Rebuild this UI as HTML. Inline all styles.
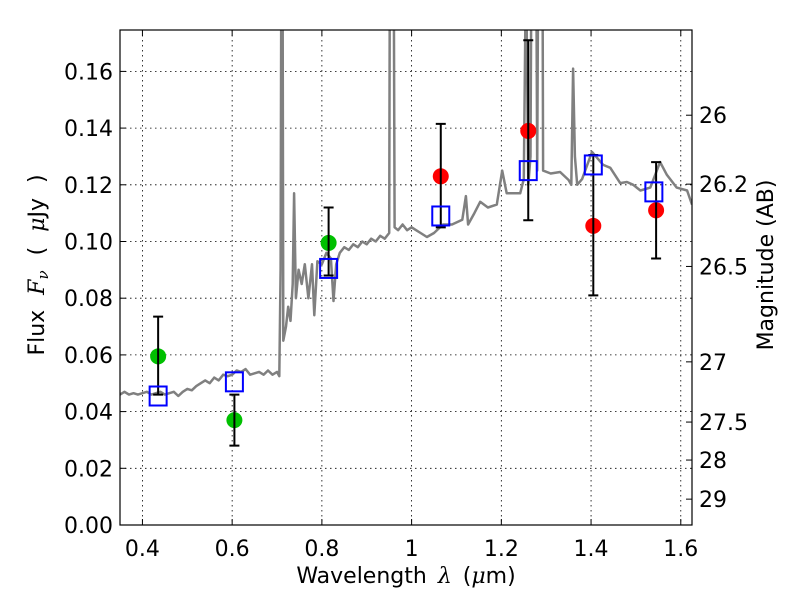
<!DOCTYPE html>
<html><head><meta charset="utf-8"><style>
body{margin:0;background:#fff;}
svg{display:block;font-family:"DejaVu Sans","Liberation Sans",sans-serif;}
</style></head><body>
<svg id="chart" width="800" height="600" viewBox="0 0 800 600">
<defs><clipPath id="clip"><rect x="120" y="30" width="572" height="495"/></clipPath></defs>
<rect x="0" y="0" width="800" height="600" fill="#fff"/>
<g id="grid"></g>
<g id="marks" clip-path="url(#clip)"></g>
<rect x="120" y="30" width="572" height="495" fill="none" stroke="#000" stroke-width="1.2"/>
<g id="axes"></g>
<text x="406" y="583" font-size="22" text-anchor="middle" word-spacing="4">Wavelength  <tspan font-style="italic" font-family="DejaVu Serif, serif">λ</tspan> (<tspan font-style="italic" font-family="DejaVu Serif, serif">μ</tspan>m)</text>
<text transform="translate(44,265) rotate(-90)" font-size="22" text-anchor="middle" word-spacing="8">Flux <tspan font-style="italic" font-family="DejaVu Serif, serif">F</tspan><tspan font-style="italic" font-family="DejaVu Serif, serif" font-size="15" dy="4">ν</tspan><tspan dy="-4"> ( <tspan font-style="italic" font-family="DejaVu Serif, serif">μ</tspan>Jy )</tspan></text>
<text transform="translate(773,265) rotate(-90)" font-size="22" text-anchor="middle">Magnitude (AB)</text>
</svg>
<script>
const specWave=[0.35,0.36,0.37,0.38,0.39,0.40,0.41,0.42,0.43,0.44,0.45,0.46,0.47,0.48,0.49,0.50,0.51,0.52,0.53,0.54,0.55,0.56,0.57,0.58,0.59,0.60,0.61,0.62,0.63,0.64,0.65,0.66,0.67,0.68,0.69,0.70,0.705,0.708,0.711,0.714,0.72,0.725,0.73,0.735,0.738,0.742,0.748,0.755,0.762,0.77,0.778,0.783,0.79,0.80,0.81,0.82,0.826,0.832,0.84,0.85,0.86,0.87,0.88,0.89,0.90,0.91,0.92,0.93,0.94,0.95,0.953,0.958,0.962,0.97,0.98,0.99,1.00,1.01,1.02,1.034,1.05,1.07,1.09,1.113,1.121,1.126,1.14,1.153,1.17,1.19,1.202,1.212,1.23,1.242,1.25,1.255,1.26,1.265,1.27,1.275,1.28,1.285,1.29,1.293,1.31,1.331,1.35,1.356,1.36,1.364,1.369,1.38,1.402,1.427,1.443,1.465,1.48,1.494,1.51,1.532,1.554,1.569,1.591,1.614,1.625];
const specFlux=[0.046,0.047,0.046,0.0465,0.046,0.0465,0.047,0.046,0.0465,0.047,0.046,0.0465,0.047,0.0455,0.047,0.048,0.0475,0.049,0.050,0.051,0.050,0.052,0.051,0.053,0.0525,0.053,0.0545,0.054,0.055,0.053,0.0535,0.054,0.053,0.0545,0.053,0.054,0.0525,0.09,0.3,0.065,0.07,0.077,0.072,0.085,0.117,0.08,0.09,0.085,0.092,0.08,0.092,0.074,0.093,0.092,0.096,0.094,0.079,0.092,0.096,0.098,0.097,0.099,0.098,0.100,0.099,0.101,0.100,0.102,0.101,0.103,0.3,0.3,0.105,0.104,0.106,0.104,0.105,0.104,0.103,0.1016,0.103,0.106,0.106,0.1077,0.116,0.106,0.110,0.114,0.112,0.113,0.125,0.117,0.117,0.117,0.122,0.2,0.12,0.13,0.3,0.3,0.125,0.3,0.3,0.125,0.124,0.1245,0.1217,0.12,0.161,0.13,0.12,0.122,0.1316,0.127,0.126,0.1206,0.121,0.12,0.118,0.119,0.128,0.1235,0.119,0.118,0.113];
const bandWave=[0.435,0.605,0.815,1.065,1.26,1.405,1.545];
const obsFlux=[0.0595,0.037,0.0995,0.123,0.139,0.1055,0.111];
const errLow=[0.046,0.028,0.088,0.105,0.1075,0.081,0.094];
const errHigh=[0.0735,0.046,0.112,0.1415,0.171,0.1305,0.128];
const obsColor=['#00c000','#00c000','#00c000','#ff0000','#ff0000','#ff0000','#ff0000'];
const modelWave=[0.435,0.605,0.815,1.065,1.26,1.405,1.54];
const modelFlux=[0.0455,0.0505,0.0905,0.109,0.125,0.127,0.1175];
const xTicks=[0.4,0.6,0.8,1.0,1.2,1.4,1.6];
const xTickLabels=['0.4','0.6','0.8','1','1.2','1.4','1.6'];
const yTicks=[0,0.02,0.04,0.06,0.08,0.10,0.12,0.14,0.16];
const yTickLabels=['0.00','0.02','0.04','0.06','0.08','0.10','0.12','0.14','0.16'];
const magTicks=[26,26.2,26.5,27,27.5,28,29];
const magTickLabels=['26','26.2','26.5','27','27.5','28','29'];

const NS='http://www.w3.org/2000/svg';
const X0=0.35,X1=1.625,Y0=0,Y1=0.1746,L=120,R=692,T=30,B=525;
const sx=v=>L+(v-X0)/(X1-X0)*(R-L);
const sy=v=>B-(v-Y0)/(Y1-Y0)*(B-T);
const magToFlux=m=>Math.pow(10,(23.9-m)/2.5);
function mk(tag,attrs,parent){const e=document.createElementNS(NS,tag);for(const k in attrs)e.setAttribute(k,attrs[k]);parent.appendChild(e);return e;}
const grid=document.getElementById('grid'),marks=document.getElementById('marks'),axes=document.getElementById('axes');

xTicks.forEach((t,i)=>{
  const x=sx(t);
  const g=mk('line',{x1:x,x2:x,y1:T,y2:B,stroke:'#000','stroke-width':0.8,'stroke-dasharray':'1.5,3.5'},grid);
  
  
  const tk=mk('line',{x1:x,x2:x,y1:B,y2:B-6,stroke:'#000'},axes);
  
  
  const tk2=mk('line',{x1:x,x2:x,y1:T,y2:T+6,stroke:'#000'},axes);
  
  
  const lb=mk('text',{x:x,y:556,'font-size':22,'text-anchor':'middle'},axes);
  lb.textContent=xTickLabels[i];
  
  
});
yTicks.forEach((t,i)=>{
  const y=sy(t);
  const g=mk('line',{x1:L,x2:R,y1:y,y2:y,stroke:'#000','stroke-width':0.8,'stroke-dasharray':'1.5,3.5'},grid);
  
  
  const tk=mk('line',{x1:L,x2:L+6,y1:y,y2:y,stroke:'#000'},axes);
  
  
  const lb=mk('text',{x:113,y:y+8,'font-size':22,'text-anchor':'end'},axes);
  lb.textContent=yTickLabels[i];
  
  
});
magTicks.forEach((m,i)=>{
  const y=sy(magToFlux(m));
  const tk=mk('line',{x1:R,x2:R-6,y1:y,y2:y,stroke:'#000'},axes);
  
  
  const lb=mk('text',{x:699,y:y+8,'font-size':22},axes);
  lb.textContent=magTickLabels[i];
  
  
});

const pts=specWave.map((w,i)=>sx(w).toFixed(1)+','+sy(Math.min(specFlux[i],0.3)).toFixed(1)).join(' ');
const sp=mk('polyline',{points:pts,fill:'none',stroke:'#808080','stroke-width':2.5,'stroke-linejoin':'round'},marks);



bandWave.forEach((w,i)=>{
  const x=sx(w);
  const c=mk('circle',{cx:x,cy:sy(obsFlux[i]),r:8,fill:obsColor[i]},marks);
  
  
});
bandWave.forEach((w,i)=>{
  const x=sx(w),yl=sy(errLow[i]),yh=sy(errHigh[i]);
  const e=mk('path',{d:`M${x},${yl}V${yh}M${x-5},${yl}H${x+5}M${x-5},${yh}H${x+5}`,stroke:'#000','stroke-width':2,fill:'none'},marks);
  
  
});
modelWave.forEach((w,i)=>{
  const s=mk('rect',{x:sx(w)-8.5,y:sy(modelFlux[i])-9.5,width:17,height:19,fill:'none',stroke:'#0000ff','stroke-width':2},marks);
  
  
});
</script>
</body></html>
